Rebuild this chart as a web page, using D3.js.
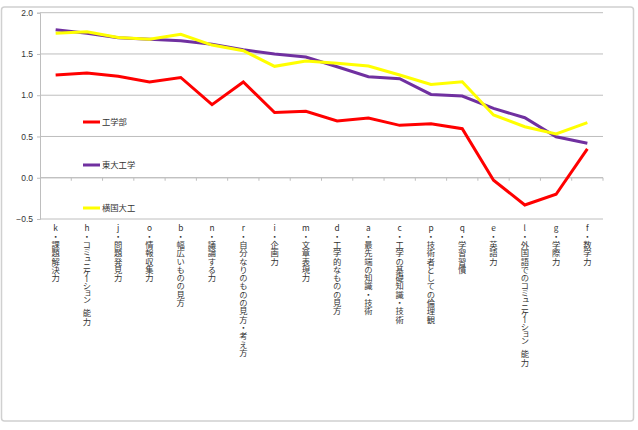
<!DOCTYPE html>
<html><head><meta charset="utf-8">
<script src="https://cdn.jsdelivr.net/npm/d3@7"></script>
<style>body{margin:0;background:#fff}</style>
</head><body>
<script>
const codes = ["k","h","j","o","b","n","r","i","m","d","a","c","p","q","e","l","g","f"];
const names = ["課題解決力","コミュニケーション 能力","問題発見力","情報収集力","幅広いものの見方","議論する力","自分なりのものの見方・考え方","企画力","文章表現力","工学的なものの見方","最先端の知識・技術","工学の基礎知識・技術","技術者としての倫理観","学習習慣","英語力","外国語でのコミュニケーション 能力","学際力","数学力"];
const seriesNames = ["工学部","東大工学","横国大工"];
const kougakubu = [1.245,1.27,1.23,1.16,1.215,0.885,1.16,0.79,0.805,0.687,0.724,0.635,0.655,0.594,-0.03,-0.33,-0.20,0.35];
const todai = [1.794,1.75,1.697,1.677,1.66,1.617,1.55,1.50,1.463,1.345,1.224,1.2,1.01,0.99,0.84,0.727,0.497,0.417];
const yokokoku = [1.75,1.77,1.70,1.677,1.738,1.608,1.54,1.35,1.414,1.387,1.354,1.245,1.13,1.164,0.76,0.618,0.53,0.667];
const yTicks = [-0.5,0.0,0.5,1.0,1.5,2.0];
const colors = ["#FF0000","#7030A0","#FFFF00"];

const W=638,H=430;
const svg=d3.select("body").append("svg").attr("width",W).attr("height",H);
svg.append("rect").attr("x",1.5).attr("y",7).attr("width",632).attr("height",414).attr("rx",3)
  .attr("fill","#fff").attr("stroke","#D0D0D0").attr("stroke-width",1.5);

const pL=40,pR=603,pT=12.7,pB=219;
const x=d3.scaleBand().domain(codes).range([pL,pR]);
const y=d3.scaleLinear().domain([-0.5,2.0]).range([pB,pT]);

svg.append("g").selectAll("line").data(yTicks).join("line")
  .attr("x1",pL).attr("x2",pR).attr("y1",d=>y(d)).attr("y2",d=>y(d))
  .attr("stroke","#BEBEBE").attr("stroke-width",1);
const yAxis=d3.axisLeft(y).tickValues(yTicks).tickFormat(d3.format(".1f")).tickSize(3).tickPadding(4);
const ga=svg.append("g").attr("transform",`translate(${pL},0)`).call(yAxis);
ga.select(".domain").attr("stroke","#BEBEBE");
ga.selectAll(".tick line").attr("stroke","#BEBEBE");
ga.selectAll("text").attr("font-family","Liberation Sans, Arial").attr("font-size",8.5).attr("fill","#333");

const xAxisG=svg.append("g").attr("transform",`translate(0,${y(0)})`);
xAxisG.append("line").attr("x1",pL).attr("x2",pR).attr("stroke","#BEBEBE");
xAxisG.selectAll("line.t").data(codes).join("line").attr("class","t")
  .attr("x1",d=>x(d)+x.step()).attr("x2",d=>x(d)+x.step())
  .attr("y1",0).attr("y2",3).attr("stroke","#BEBEBE");

const labels=svg.append("g").selectAll("text").data(codes).join("text")
  .attr("x",d=>x(d)+x.bandwidth()/2).attr("y",224)
  .attr("style","writing-mode: vertical-rl; text-orientation: upright;")
  .attr("font-family","Noto Sans CJK JP").attr("font-size",8.3).attr("fill","#333");
labels.each(function(d,i){
  const t=d3.select(this);
  const parts=(d+"・"+names[i]).split(/(コミュニケーション )/);
  parts.forEach(p=>{
    if(!p) return;
    const ts=t.append("tspan").text(p);
    if(p.startsWith("コミュ")) ts.attr("style","letter-spacing:-1.5px");
  });
});

const data=[kougakubu,todai,yokokoku];
const line=d3.line().x((d,i)=>x(codes[i])+x.bandwidth()/2).y(d=>y(d));
svg.append("g").selectAll("path").data(data).join("path")
  .attr("d",line).attr("fill","none").attr("stroke",(d,i)=>colors[i])
  .attr("stroke-width",3).attr("stroke-linejoin","miter");

const lg=svg.append("g").selectAll("g").data(seriesNames).join("g")
  .attr("transform",(d,i)=>`translate(83,${122+i*43})`);
lg.append("line").attr("x1",0).attr("x2",17).attr("stroke",(d,i)=>colors[i]).attr("stroke-width",3);
lg.append("text").attr("x",19).attr("y",3).attr("font-family","Noto Sans CJK JP").attr("font-size",8.3)
  .attr("fill","#333").text(d=>d);
</script>
</body></html>
